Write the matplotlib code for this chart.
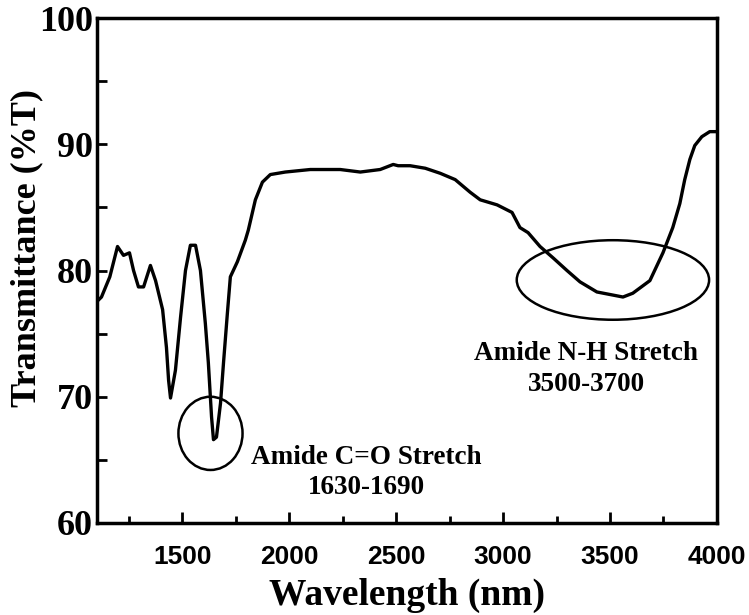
import numpy as np
import matplotlib
matplotlib.use("Agg")
import matplotlib.pyplot as plt
from matplotlib.patches import Ellipse
from matplotlib.ticker import MultipleLocator

# FTIR-style transmittance trace
wavelength = [1103, 1121, 1160, 1196, 1224, 1252, 1271, 1294, 1318, 1350, 1374,
              1407, 1425, 1435, 1444, 1467, 1491, 1514, 1537, 1561, 1584, 1607,
              1621, 1636, 1645, 1659, 1678, 1692, 1710, 1724, 1757, 1794, 1808,
              1841, 1874, 1911, 1981, 2098, 2238, 2332, 2425, 2486, 2509, 2565,
              2636, 2706, 2776, 2846, 2893, 2972, 3042, 3079, 3117, 3173, 3234,
              3299, 3360, 3439, 3561, 3607, 3687, 3748, 3794, 3827, 3850, 3874,
              3897, 3930, 3967, 4000]
transmittance = [77.6, 77.9, 79.5, 81.9, 81.2, 81.4, 80.0, 78.7, 78.7, 80.4, 79.2,
                 76.9, 73.9, 71.3, 69.9, 72.1, 76.3, 80.0, 82.0, 82.0, 80.0, 75.8,
                 72.7, 68.4, 66.6, 66.8, 69.5, 72.7, 76.6, 79.5, 80.7, 82.4, 83.2,
                 85.6, 87.0, 87.6, 87.8, 88.0, 88.0, 87.8, 88.0, 88.4, 88.3, 88.3,
                 88.1, 87.7, 87.2, 86.2, 85.6, 85.2, 84.6, 83.4, 83.0, 81.9, 81.0,
                 80.0, 79.1, 78.3, 77.9, 78.2, 79.2, 81.4, 83.4, 85.3, 87.2, 88.8,
                 89.9, 90.6, 91.0, 91.0]

# annotated regions: (center x, center y, width, height)
co_region = (1631, 67.1, 300, 5.8)
nh_region = (3514, 79.25, 900, 6.3)
co_label = "Amide C=O Stretch\n1630-1690"
nh_label = "Amide N-H Stretch\n3500-3700"

serif = "Liberation Serif"

fig = plt.figure(figsize=(7.49, 6.15), dpi=100)
ax = fig.add_axes([0.1295, 0.1496, 0.8275, 0.8211])

ax.plot(wavelength, transmittance, color="black", linewidth=2.4)

for cx, cy, w, h in [co_region, nh_region]:
    ax.add_patch(Ellipse((cx, cy), w, h, fill=False, edgecolor="black", linewidth=1.8))

ax.text(2360, 64.0, co_label, ha="center", va="center", fontsize=19.5,
        fontweight="bold", family=serif, linespacing=1.3, multialignment="center")
ax.text(3390, 72.2, nh_label, ha="center", va="center", fontsize=19.5,
        fontweight="bold", family=serif, linespacing=1.3, multialignment="center")

ax.set_xlim(1100, 4000)
ax.set_ylim(60, 100)
ax.xaxis.set_major_locator(MultipleLocator(500))
ax.xaxis.set_minor_locator(MultipleLocator(250))
ax.yaxis.set_major_locator(MultipleLocator(10))
ax.yaxis.set_minor_locator(MultipleLocator(5))
ax.tick_params(which="both", direction="in", width=2, top=False, right=False)
ax.tick_params(axis="x", which="major", length=8, pad=16)
ax.tick_params(axis="x", which="minor", length=5)
ax.tick_params(axis="y", which="both", length=7, pad=3)

for lab in ax.get_xticklabels():
    lab.set_fontfamily("Liberation Sans")
    lab.set_fontweight("bold")
    lab.set_fontsize(19)
for lab in ax.get_yticklabels():
    lab.set_fontfamily(serif)
    lab.set_fontweight("bold")
    lab.set_fontsize(26)

for sp in ax.spines.values():
    sp.set_linewidth(2.5)

ax.set_xlabel("Wavelength (nm)", fontsize=27, fontweight="bold", family=serif)
ax.xaxis.set_label_coords(0.5, -0.108)
ax.set_ylabel("Transmittance (%T)", fontsize=26, fontweight="bold", family=serif)
ax.yaxis.set_label_coords(-0.087, 0.545)

plt.savefig("out.png", dpi=100)
plt.close()
